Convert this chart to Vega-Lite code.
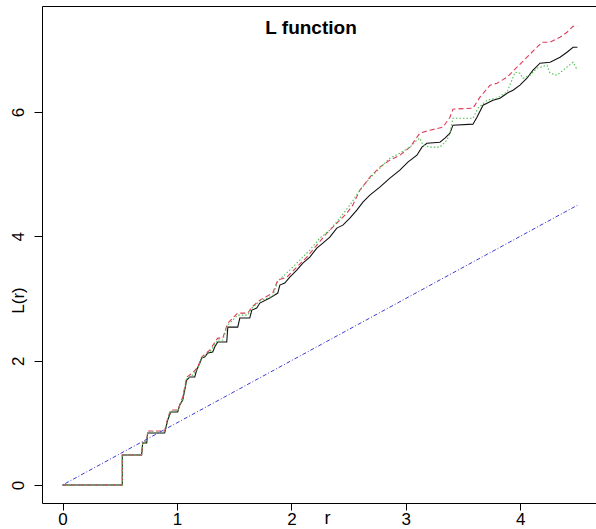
{
"$schema": "https://vega.github.io/schema/vega-lite/v6.json",
"autosize": "none",
"width": 554,
"height": 497,
"padding": {"left": 42, "top": 6, "right": 0, "bottom": 26},
"background": "white",
"config": {"view": {"stroke": "black", "strokeWidth": 1}, "font": "Liberation Sans"},
"title": {"text": "L function", "fontSize": 19, "fontWeight": "bold", "font": "Liberation Sans", "color": "black", "anchor": "middle", "frame": "group", "offset": 0, "baseline": "alphabetic", "dy": 47, "dx": -8},
"data": {"values": [
{"s":"iso","r":0,"L":0},{"s":"iso","r":0.522,"L":0},{"s":"iso","r":0.522,"L":0.482},{"s":"iso","r":0.691,"L":0.482},{"s":"iso","r":0.700,"L":0.675},{"s":"iso","r":0.735,"L":0.675},{"s":"iso","r":0.744,"L":0.836},{"s":"iso","r":0.892,"L":0.836},{"s":"iso","r":0.919,"L":1.045},{"s":"iso","r":0.945,"L":1.174},{"s":"iso","r":1.006,"L":1.174},{"s":"iso","r":1.024,"L":1.286},{"s":"iso","r":1.050,"L":1.367},{"s":"iso","r":1.085,"L":1.688},{"s":"iso","r":1.111,"L":1.736},{"s":"iso","r":1.155,"L":1.736},{"s":"iso","r":1.172,"L":1.849},{"s":"iso","r":1.199,"L":1.961},{"s":"iso","r":1.216,"L":2.042},{"s":"iso","r":1.242,"L":2.058},{"s":"iso","r":1.269,"L":2.122},{"s":"iso","r":1.312,"L":2.138},{"s":"iso","r":1.330,"L":2.219},{"s":"iso","r":1.356,"L":2.299},{"s":"iso","r":1.435,"L":2.299},{"s":"iso","r":1.444,"L":2.540},{"s":"iso","r":1.531,"L":2.540},{"s":"iso","r":1.549,"L":2.685},{"s":"iso","r":1.636,"L":2.685},{"s":"iso","r":1.654,"L":2.814},{"s":"iso","r":1.697,"L":2.846},{"s":"iso","r":1.724,"L":2.926},{"s":"iso","r":1.811,"L":3.006},{"s":"iso","r":1.881,"L":3.087},{"s":"iso","r":1.899,"L":3.215},{"s":"iso","r":1.942,"L":3.248},{"s":"iso","r":1.986,"L":3.344},{"s":"iso","r":2.047,"L":3.457},{"s":"iso","r":2.100,"L":3.569},{"s":"iso","r":2.161,"L":3.666},{"s":"iso","r":2.222,"L":3.810},{"s":"iso","r":2.275,"L":3.891},{"s":"iso","r":2.336,"L":3.987},{"s":"iso","r":2.397,"L":4.132},{"s":"iso","r":2.450,"L":4.180},{"s":"iso","r":2.511,"L":4.293},{"s":"iso","r":2.572,"L":4.421},{"s":"iso","r":2.625,"L":4.550},{"s":"iso","r":2.686,"L":4.662},{"s":"iso","r":2.773,"L":4.791},{"s":"iso","r":2.861,"L":4.936},{"s":"iso","r":2.948,"L":5.064},{"s":"iso","r":3.018,"L":5.193},{"s":"iso","r":3.097,"L":5.305},{"s":"iso","r":3.141,"L":5.434},{"s":"iso","r":3.185,"L":5.498},{"s":"iso","r":3.298,"L":5.514},{"s":"iso","r":3.342,"L":5.579},{"s":"iso","r":3.386,"L":5.659},{"s":"iso","r":3.412,"L":5.788},{"s":"iso","r":3.587,"L":5.804},{"s":"iso","r":3.622,"L":5.916},{"s":"iso","r":3.675,"L":6.109},{"s":"iso","r":3.762,"L":6.190},{"s":"iso","r":3.823,"L":6.222},{"s":"iso","r":3.885,"L":6.302},{"s":"iso","r":3.937,"L":6.350},{"s":"iso","r":3.998,"L":6.431},{"s":"iso","r":4.059,"L":6.543},{"s":"iso","r":4.112,"L":6.672},{"s":"iso","r":4.173,"L":6.785},{"s":"iso","r":4.261,"L":6.801},{"s":"iso","r":4.348,"L":6.881},{"s":"iso","r":4.409,"L":6.961},{"s":"iso","r":4.462,"L":7.042},{"s":"iso","r":4.5,"L":7.042},
{"s":"trans","r":0,"L":0},{"s":"trans","r":0.522,"L":0},{"s":"trans","r":0.522,"L":0.482},{"s":"trans","r":0.691,"L":0.482},{"s":"trans","r":0.700,"L":0.675},{"s":"trans","r":0.735,"L":0.707},{"s":"trans","r":0.744,"L":0.868},{"s":"trans","r":0.892,"L":0.868},{"s":"trans","r":0.919,"L":1.077},{"s":"trans","r":0.945,"L":1.206},{"s":"trans","r":1.006,"L":1.206},{"s":"trans","r":1.050,"L":1.415},{"s":"trans","r":1.085,"L":1.736},{"s":"trans","r":1.137,"L":1.801},{"s":"trans","r":1.181,"L":1.897},{"s":"trans","r":1.216,"L":2.058},{"s":"trans","r":1.286,"L":2.170},{"s":"trans","r":1.356,"L":2.363},{"s":"trans","r":1.400,"L":2.363},{"s":"trans","r":1.444,"L":2.605},{"s":"trans","r":1.531,"L":2.765},{"s":"trans","r":1.619,"L":2.765},{"s":"trans","r":1.654,"L":2.862},{"s":"trans","r":1.724,"L":2.974},{"s":"trans","r":1.837,"L":3.087},{"s":"trans","r":1.881,"L":3.296},{"s":"trans","r":1.960,"L":3.344},{"s":"trans","r":2.047,"L":3.505},{"s":"trans","r":2.135,"L":3.666},{"s":"trans","r":2.222,"L":3.859},{"s":"trans","r":2.310,"L":4.051},{"s":"trans","r":2.397,"L":4.212},{"s":"trans","r":2.485,"L":4.373},{"s":"trans","r":2.537,"L":4.502},{"s":"trans","r":2.599,"L":4.743},{"s":"trans","r":2.686,"L":4.952},{"s":"trans","r":2.773,"L":5.113},{"s":"trans","r":2.861,"L":5.225},{"s":"trans","r":2.948,"L":5.305},{"s":"trans","r":3.036,"L":5.434},{"s":"trans","r":3.123,"L":5.659},{"s":"trans","r":3.211,"L":5.707},{"s":"trans","r":3.325,"L":5.756},{"s":"trans","r":3.386,"L":5.916},{"s":"trans","r":3.412,"L":6.045},{"s":"trans","r":3.587,"L":6.061},{"s":"trans","r":3.648,"L":6.238},{"s":"trans","r":3.736,"L":6.431},{"s":"trans","r":3.797,"L":6.463},{"s":"trans","r":3.885,"L":6.559},{"s":"trans","r":3.972,"L":6.720},{"s":"trans","r":4.059,"L":6.881},{"s":"trans","r":4.147,"L":7.042},{"s":"trans","r":4.191,"L":7.122},{"s":"trans","r":4.261,"L":7.122},{"s":"trans","r":4.348,"L":7.203},{"s":"trans","r":4.409,"L":7.283},{"s":"trans","r":4.462,"L":7.379},{"s":"trans","r":4.5,"L":7.379},
{"s":"border","r":0,"L":0},{"s":"border","r":0.522,"L":0},{"s":"border","r":0.522,"L":0.482},{"s":"border","r":0.691,"L":0.482},{"s":"border","r":0.700,"L":0.675},{"s":"border","r":0.735,"L":0.691},{"s":"border","r":0.744,"L":0.852},{"s":"border","r":0.892,"L":0.852},{"s":"border","r":0.919,"L":1.061},{"s":"border","r":0.945,"L":1.190},{"s":"border","r":1.006,"L":1.190},{"s":"border","r":1.050,"L":1.383},{"s":"border","r":1.085,"L":1.704},{"s":"border","r":1.137,"L":1.768},{"s":"border","r":1.181,"L":1.865},{"s":"border","r":1.216,"L":2.042},{"s":"border","r":1.286,"L":2.138},{"s":"border","r":1.356,"L":2.331},{"s":"border","r":1.400,"L":2.331},{"s":"border","r":1.444,"L":2.572},{"s":"border","r":1.531,"L":2.733},{"s":"border","r":1.619,"L":2.733},{"s":"border","r":1.654,"L":2.846},{"s":"border","r":1.724,"L":2.958},{"s":"border","r":1.837,"L":3.039},{"s":"border","r":1.881,"L":3.280},{"s":"border","r":1.986,"L":3.457},{"s":"border","r":2.073,"L":3.617},{"s":"border","r":2.161,"L":3.778},{"s":"border","r":2.248,"L":3.971},{"s":"border","r":2.336,"L":4.100},{"s":"border","r":2.423,"L":4.293},{"s":"border","r":2.511,"L":4.502},{"s":"border","r":2.599,"L":4.743},{"s":"border","r":2.686,"L":4.936},{"s":"border","r":2.773,"L":5.096},{"s":"border","r":2.861,"L":5.257},{"s":"border","r":2.948,"L":5.338},{"s":"border","r":3.036,"L":5.434},{"s":"border","r":3.097,"L":5.547},{"s":"border","r":3.123,"L":5.579},{"s":"border","r":3.150,"L":5.466},{"s":"border","r":3.211,"L":5.434},{"s":"border","r":3.298,"L":5.434},{"s":"border","r":3.360,"L":5.547},{"s":"border","r":3.386,"L":5.659},{"s":"border","r":3.412,"L":5.900},{"s":"border","r":3.587,"L":5.900},{"s":"border","r":3.631,"L":6.061},{"s":"border","r":3.710,"L":6.190},{"s":"border","r":3.797,"L":6.222},{"s":"border","r":3.885,"L":6.318},{"s":"border","r":3.955,"L":6.640},{"s":"border","r":3.998,"L":6.624},{"s":"border","r":4.024,"L":6.543},{"s":"border","r":4.086,"L":6.592},{"s":"border","r":4.147,"L":6.704},{"s":"border","r":4.234,"L":6.752},{"s":"border","r":4.261,"L":6.624},{"s":"border","r":4.322,"L":6.592},{"s":"border","r":4.374,"L":6.672},{"s":"border","r":4.462,"L":6.801},{"s":"border","r":4.5,"L":6.672},
{"s":"theo","r":0,"L":0},{"s":"theo","r":4.5,"L":4.5}
]},
"encoding": {
"x": {"field": "r", "type": "quantitative", "scale": {"domain": [-0.18, 4.6625], "nice": false, "zero": false},
 "axis": {"values": [0, 1, 2, 3, 4], "title": "r", "grid": false, "domain": false, "tickColor": "black", "tickSize": 7, "labelFontSize": 17, "labelColor": "black", "labelFont": "Liberation Sans", "labelBaseline": "alphabetic", "labelPadding": 14, "labelFlush": false, "titleFontSize": 18, "titleFontWeight": "normal", "titleColor": "black", "titleFont": "Liberation Sans", "titleX": 285, "titleY": 6, "titleBaseline": "top", "titleAlign": "center"}},
"y": {"field": "L", "type": "quantitative", "scale": {"domain": [-0.29, 7.705], "nice": false, "zero": false},
 "axis": {"values": [0, 2, 4, 6], "title": "L(r)", "grid": false, "domain": false, "tickColor": "black", "tickSize": 8, "labelFontSize": 17, "labelColor": "black", "labelFont": "Liberation Sans", "labelAngle": -90, "labelAlign": "center", "labelBaseline": "alphabetic", "labelPadding": 11, "titleFontSize": 17, "titleFontWeight": "normal", "titleColor": "black", "titleFont": "Liberation Sans", "titleAngle": -90, "titleAlign": "center", "titleBaseline": "alphabetic", "titleX": -19, "titleY": 294}}
},
"layer": [
{"transform": [{"filter": "datum.s === 'iso'"}], "mark": {"type": "line", "color": "#111111", "strokeWidth": 1.1}},
{"transform": [{"filter": "datum.s === 'trans'"}], "mark": {"type": "line", "color": "#DC3D5A", "strokeWidth": 1.1, "strokeDash": [5, 3]}},
{"transform": [{"filter": "datum.s === 'border'"}], "mark": {"type": "line", "color": "#4DBE4D", "strokeWidth": 1.1, "strokeDash": [1.5, 2]}},
{"transform": [{"filter": "datum.s === 'theo'"}], "mark": {"type": "line", "color": "#3C3CD0", "strokeWidth": 1, "strokeDash": [1, 2, 4, 2]}}
]
}
